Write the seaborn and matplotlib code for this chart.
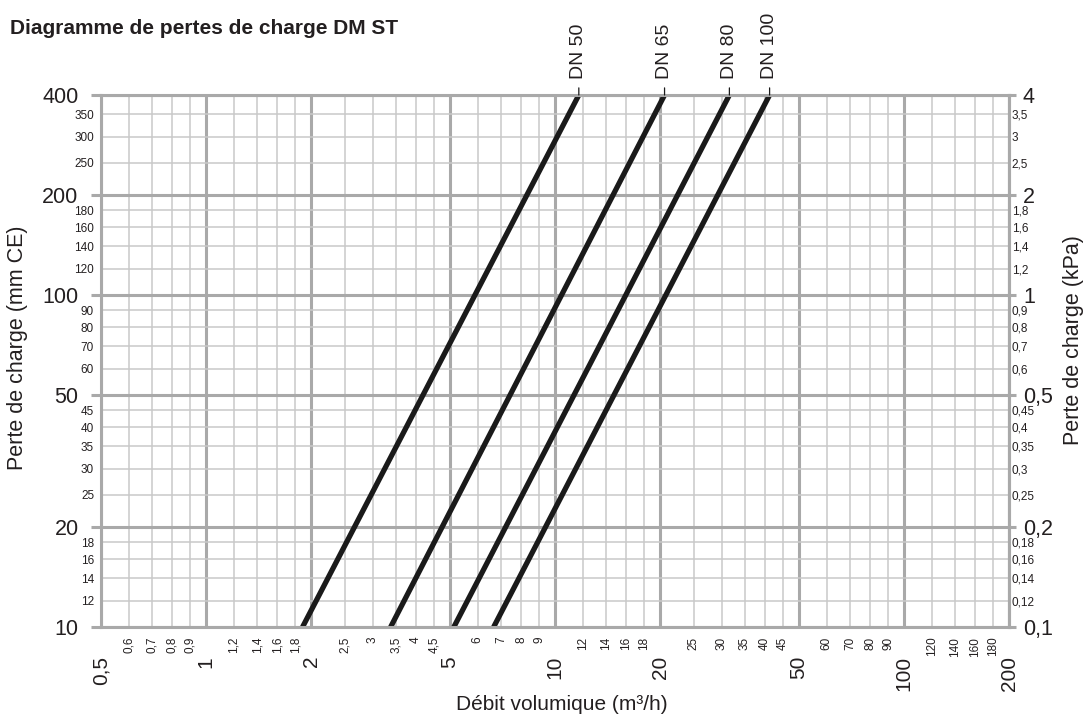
import pandas as pd
import seaborn as sns
import matplotlib.pyplot as plt
from matplotlib.ticker import FixedLocator, FixedFormatter

# Values
diametres = ['DN 50', 'DN 65', 'DN 80', 'DN 100']
debit_bas = [1.89, 3.38, 5.13, 6.67]     # m3/h at the bottom of the scale
debit_haut = [11.7, 20.6, 31.6, 41.2]    # m3/h at the top of the scale
perte_bas = 10      # mm CE
perte_haut = 400    # mm CE

x_major = [0.5, 1, 2, 5, 10, 20, 50, 100, 200]
x_minor = [0.6, 0.7, 0.8, 0.9, 1.2, 1.4, 1.6, 1.8, 2.5, 3, 3.5, 4, 4.5,
           6, 7, 8, 9, 12, 14, 16, 18, 25, 30, 35, 40, 45,
           60, 70, 80, 90, 120, 140, 160, 180]
y_major = [10, 20, 50, 100, 200, 400]
y_minor = [12, 14, 16, 18, 25, 30, 35, 40, 45, 60, 70, 80, 90,
           120, 140, 160, 180, 250, 300, 350]


def fr(v):
    return f'{v:g}'.replace('.', ',')


# Long table for seaborn
rows = []
for dn, q0, q1 in zip(diametres, debit_bas, debit_haut):
    rows.append({'dn': dn, 'debit': q0, 'perte': perte_bas})
    rows.append({'dn': dn, 'debit': q1, 'perte': perte_haut})
df = pd.DataFrame(rows)

sns.set_style('white')
plt.rcParams['font.family'] = ['Liberation Sans', 'DejaVu Sans']

txt = '#231f20'
major_c = '#a9a9a9'
minor_c = '#c9c9c9'

fig = plt.figure(figsize=(10.9, 7.16), dpi=100)
ax = fig.add_axes([0.0927, 0.1243, 0.8330, 0.7430])
ax.set_xscale('log')
ax.set_yscale('log')
ax.set_xlim(0.5, 200)
ax.set_ylim(perte_bas, perte_haut)

sns.lineplot(data=df, x='debit', y='perte', hue='dn', units='dn', estimator=None,
             sort=False, palette={d: '#1a1a1a' for d in diametres},
             linewidth=3.8, legend=False, ax=ax, solid_capstyle='butt')

# Labels on top of each curve with a small leader line
for dn, q1 in zip(diametres, debit_haut):
    ax.annotate(dn, xy=(q1, perte_haut), xytext=(0, 11.5), textcoords='offset points',
                rotation=90, ha='center', va='bottom', fontsize=14, color=txt,
                annotation_clip=False,
                arrowprops=dict(arrowstyle='-', lw=0.9, color='#1a1a1a',
                                shrinkA=4, shrinkB=0))

# Ticks and grid
ax.xaxis.set_major_locator(FixedLocator(x_major))
ax.xaxis.set_major_formatter(FixedFormatter([fr(v) for v in x_major]))
ax.xaxis.set_minor_locator(FixedLocator(x_minor))
ax.xaxis.set_minor_formatter(FixedFormatter([fr(v) for v in x_minor]))
ax.yaxis.set_major_locator(FixedLocator(y_major))
ax.yaxis.set_major_formatter(FixedFormatter([fr(v) for v in y_major]))
ax.yaxis.set_minor_locator(FixedLocator(y_minor))
ax.yaxis.set_minor_formatter(FixedFormatter([fr(v) for v in y_minor]))

ax.set_axisbelow(True)
ax.grid(True, which='major', color=major_c, lw=2.2)
ax.grid(True, which='minor', color=minor_c, lw=1.1)

ax.tick_params(axis='x', which='major', direction='out', length=5.8, width=2.2,
               color=major_c, labelsize=15, labelrotation=90, pad=15, labelcolor=txt)
ax.tick_params(axis='x', which='minor', length=0, labelsize=8.5, labelrotation=90,
               pad=7, labelcolor=txt)
ax.tick_params(axis='y', which='major', direction='out', length=7.2, width=2.2,
               color=major_c, labelsize=15.5, pad=9, labelcolor=txt)
ax.tick_params(axis='y', which='minor', length=0, labelsize=8.5, pad=5, labelcolor=txt)

for sp in ax.spines.values():
    sp.set_visible(True)
    sp.set_color(major_c)
    sp.set_linewidth(2.2)

# Right axis in kPa
ax2 = ax.twinx()
ax2.set_yscale('log')
ax2.set_ylim(perte_bas, perte_haut)
ax2.yaxis.set_major_locator(FixedLocator(y_major))
ax2.yaxis.set_major_formatter(FixedFormatter([fr(v / 100) for v in y_major]))
ax2.yaxis.set_minor_locator(FixedLocator(y_minor))
ax2.yaxis.set_minor_formatter(FixedFormatter([fr(v / 100) for v in y_minor]))
ax2.tick_params(axis='y', which='major', direction='out', length=5, width=2.2,
                color=major_c, labelsize=15.5, pad=5, labelcolor=txt)
ax2.tick_params(axis='y', which='minor', length=0, labelsize=8.5, pad=2, labelcolor=txt)
for sp in ax2.spines.values():
    sp.set_visible(False)
ax2.spines['right'].set_visible(True)
ax2.spines['right'].set_color(major_c)
ax2.spines['right'].set_linewidth(2.2)

# Axis titles
ax.set_xlabel('Débit volumique (m³/h)', fontsize=15, color=txt)
ax.xaxis.set_label_coords(0.508, -0.1466)
ax.xaxis.label.set_va('center')
ax.set_ylabel('Perte de charge (mm CE)', fontsize=15.5, color=txt)
ax.yaxis.set_label_coords(-0.0925, 0.524)
ax.yaxis.label.set_va('center')
ax2.set_ylabel('Perte de charge (kPa)', fontsize=15.5, color=txt)
ax2.yaxis.set_label_coords(1.0705, 0.539)
ax2.yaxis.label.set_va('center')

fig.text(0.009, 1 - 34 / 716, 'Diagramme de pertes de charge DM ST',
         fontsize=15, fontweight='bold', va='baseline', color=txt)

fig.savefig('out.png', dpi=100)
